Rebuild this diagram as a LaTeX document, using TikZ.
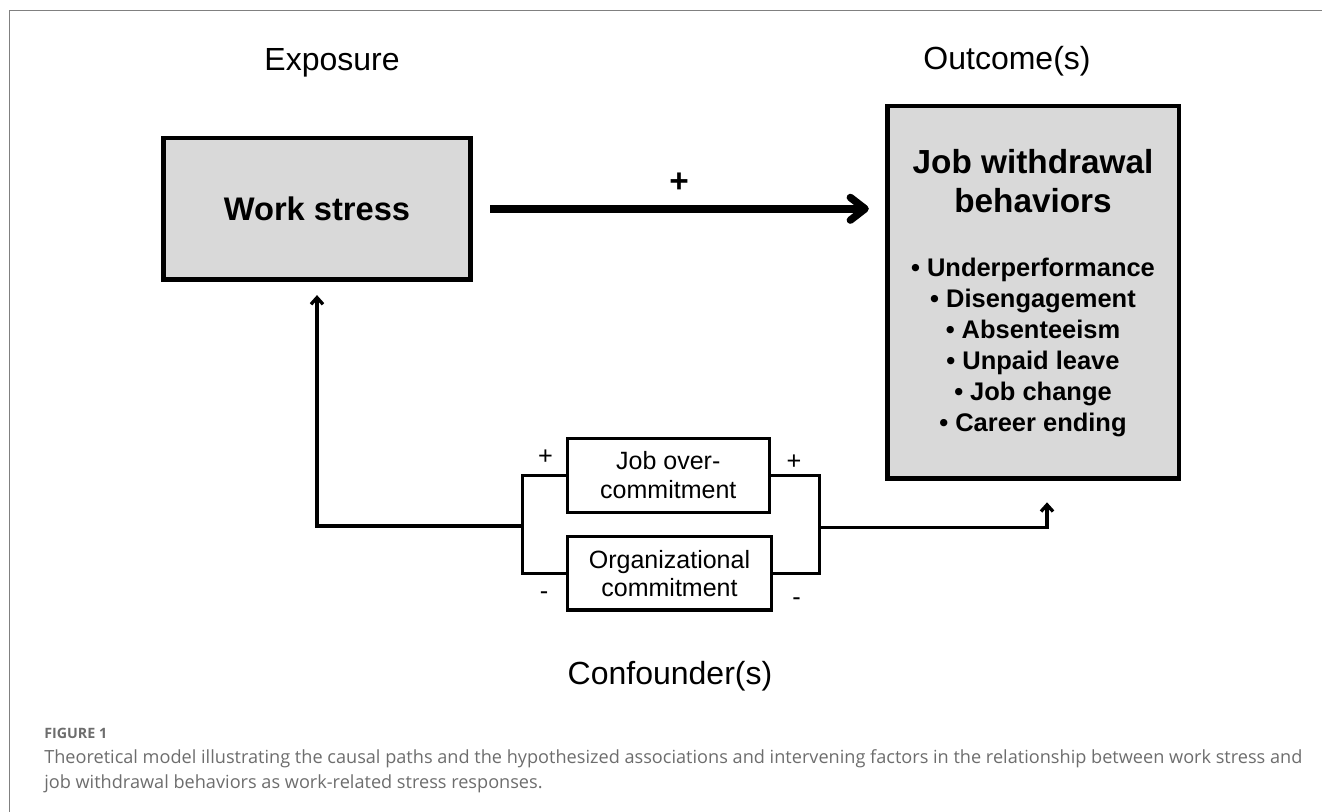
\documentclass[tikz,border=0pt]{standalone}
\usepackage{fontspec}
\setmainfont{Liberation Sans}
\newfontfamily\capfont{Open Sans}
\usetikzlibrary{arrows.meta,positioning}

\definecolor{boxgray}{HTML}{D9D9D9}
\definecolor{capgray}{HTML}{6D6D6D}
\definecolor{framegray}{HTML}{808080}

\tikzset{
	heading/.style={font=\fontsize{24}{28}\selectfont},
	bigbox/.style={draw,fill=boxgray,line width=3.4pt},
	confbox/.style={draw,line width=2.5pt,align=center,font=\fontsize{18.75}{21.5}\selectfont},
	conn/.style={line width=2.5pt,line join=miter},
	sign/.style={font=\fontsize{19}{22}\selectfont},
	thintip/.style={-{Straight Barb[length=5pt,width=9pt]}},
	captext/.style={font=\capfont\fontsize{13.6}{16}\selectfont,text=capgray,anchor=base west,inner sep=0pt}
}

\begin{document}
\begin{tikzpicture}[x=0.75pt,y=-0.75pt]
	\useasboundingbox (0,0) rectangle (1322,812);
	% Frame of the figure panel
	\draw[framegray,line width=0.75pt] (9.5,812) -- (9.5,11) -- (1322,11);
	
	% Column titles
	\node[heading,anchor=base] (exposure) at (332,70.5) {Exposure};
	\node[heading,anchor=base] (outcomes) at (1007,70) {Outcome(s)};
	\node[heading,anchor=base] (confounders) at (670,685) {Confounder(s)};
	
	% Exposure and outcome boxes
	\node[bigbox,minimum width=230.3pt,minimum height=106.1pt,font=\bfseries\fontsize{24.5}{28}\selectfont] (stress) at (317,208.8) {Work stress};
	\node[bigbox,minimum width=218.6pt,minimum height=279.5pt] (withdrawal) at (1033.3,292.4) {};
	\node[align=center,font=\bfseries\fontsize{25}{29.25}\selectfont] (wtitle) at (1033,181.5) {Job withdrawal\\behaviors};
	% Loop through the behaviors, one line each
	\foreach \beh [count=\i from 0] in {Underperformance,Disengagement,Absenteeism,Unpaid leave,Job change,Career ending}{
		\node[anchor=base,font=\bfseries\fontsize{19.1}{22}\selectfont] (beh\i) at (1033,{277+30.9*\i}) {\textbullet\ \beh};% Bullet and behavior
	}
	
	% Confounder boxes and the two branch points
	\node[confbox,minimum width=151.3pt,minimum height=55.5pt] (overcommit) at (668.3,475.3) {Job over-\\commitment};
	\node[confbox,minimum width=153.2pt,minimum height=55.1pt] (orgcommit) at (669.5,573.4) {Organizational\\commitment};
	\coordinate (lbranch) at (522.5,526);
	\coordinate (rbranch) at (819.3,527.7);
	
	% Main path
	\draw[line width=5.6pt,-{Straight Barb[length=11pt,width=17pt,round]},shorten <=13pt,shorten >=12.4pt] (stress.east) -- (stress.east -| withdrawal.west) node[midway,above=6pt,font=\bfseries\fontsize{25}{28}\selectfont] (pmain) {+};
	
	% Brackets round the confounders
	\draw[conn] (overcommit.west) -| (lbranch) |- (orgcommit.west);
	\draw[conn] (overcommit.east) -| (rbranch) |- (orgcommit.east);
	\draw[conn,thintip,shorten >=10pt] (lbranch) -| (stress.south);% Back to the exposure
	\draw[conn,thintip,shorten >=16pt] (rbranch) -| ([xshift=10.3pt]withdrawal.south);% On to the outcome
	
	% Signs of the paths
	\foreach \s/\x/\y [count=\i] in {+/545.5/457.5,+/794/461.7,-/544/595.7,-/796.6/601.7}
		\node[sign] (sign\i) at (\x,\y) {\s};
	
	% Caption
	\node[captext,font=\capfont\bfseries\fontsize{10.7}{13}\selectfont] (figlabel) at (44,738.3) {FIGURE 1};
	\node[captext] (capline1) at (44,763.3) {Theoretical model illustrating the causal paths and the hypothesized associations and intervening factors in the relationship between work stress and};
	\node[captext] (capline2) at (44,788.3) {job withdrawal behaviors as work-related stress responses.};
\end{tikzpicture}
\end{document}
